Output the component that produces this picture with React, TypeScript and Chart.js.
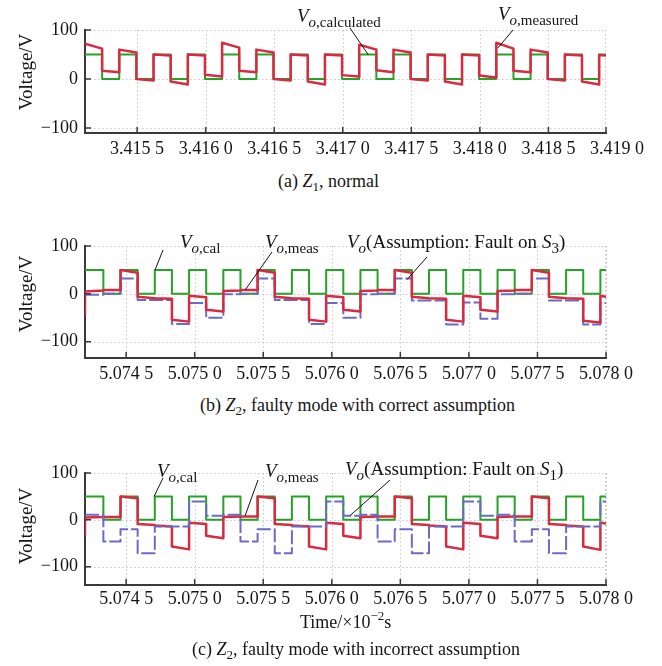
import React, { useEffect, useRef } from "react";
import { Chart, registerables } from "chart.js";

Chart.register(...registerables);

const SERIF = '"Liberation Serif", "Times New Roman", Times, serif';
const AXIS = "#3a3a3a";
const TEXT = "#151515";
const RED = "#d82a40";
const GREEN = "#26a326";
const BLUE = "#6b6bc6";

// ---------- shared ----------
const yTicks = [-100, 0, 100];

// ---------- panel (a): Z1, normal ----------
const timesA = [
  3.41512, 3.415245, 3.41537, 3.415495, 3.41562, 3.415745, 3.41587, 3.415995,
  3.41612, 3.416245, 3.41637, 3.416495, 3.41662, 3.416745, 3.41687, 3.416995,
  3.41712, 3.417245, 3.41737, 3.417495, 3.41762, 3.417745, 3.41787, 3.417995,
  3.41812, 3.418245, 3.41837, 3.418495, 3.41862, 3.418745, 3.41887, 3.41892,
];
const xTicksA = [3.4155, 3.416, 3.4165, 3.417, 3.4175, 3.418, 3.4185, 3.419];
const greenA = [
  50, 0, 50, 0, 50, 0, 50, 0, 50, 0, 50, 0, 50, 0, 50, 0,
  50, 0, 50, 0, 50, 0, 50, 0, 50, 0, 50, 0, 50, 0, 50,
];
const redAStart = [
  72, 17, 60, 0, 50, -5, 50, 9, 74, 17, 60, 0, 50, -5, 50, 8,
  70, 18, 60, 0, 50, -5, 50, 7, 74, 17, 60, 0, 50, -5, 49,
];
const redAEnd = [
  62, 14, 54, -3, 48, -11, 48, 5, 64, 14, 54, -3, 48, -11, 48, 5,
  60, 14, 54, -3, 48, -11, 48, 3, 62, 14, 54, -3, 48, -11, 48,
];

// ---------- panels (b) and (c): Z2, faulty mode ----------
const timesBC = [
  5.0742, 5.074334, 5.074459, 5.074584, 5.074709, 5.074834, 5.074959, 5.075084,
  5.075209, 5.075334, 5.075459, 5.075584, 5.075709, 5.075834, 5.075959, 5.076084,
  5.076209, 5.076334, 5.076459, 5.076584, 5.076709, 5.076834, 5.076959, 5.077084,
  5.077209, 5.077334, 5.077459, 5.077584, 5.077709, 5.077834, 5.077959, 5.078,
];
const xTicksBC = [5.0745, 5.075, 5.0755, 5.076, 5.0765, 5.077, 5.0775, 5.078];

const greenB = [
  50, 0, 50, 0, 50, 0, 50, 0, 50, 0, 50, 0, 50, 0, 50, 0,
  50, 0, 50, 0, 50, 0, 50, 0, 50, 0, 50, 0, 50, 0, 50,
];
const redBLead = -45;
const redBStart = [
  5, 8, 50, -6, -9, -54, -4, -33, 6, 8, 50, -6, -9, -54, -4, -33,
  6, 8, 50, -6, -9, -54, -4, -33, 6, 8, 50, -6, -9, -56, -4,
];
const redBEnd = [
  7, 8, 44, -9, -10, -58, -7, -37, 7, 8, 44, -9, -10, -58, -7, -37,
  7, 8, 44, -9, -10, -58, -7, -37, 7, 8, 44, -9, -10, -60, -6,
];
const blueB = [
  -2, 0, 32, -13, -13, -63, -19, -50, -1, 0, 32, -13, -13, -63, -19, -50,
  -1, 0, 32, -14, -14, -64, -18, -52, -1, 0, 32, -14, -14, -64, -19,
];

const greenC = [
  50, 0, 50, 0, 50, 0, 50, 0, 50, 0, 50, 0, 50, 0, 50, 0,
  50, 0, 50, 0, 50, 0, 50, 0, 50, 0, 50, 0, 50, 0, 50,
];
const redCLead = -35;
const redCStart = [
  5, 6, 50, -9, -12, -57, -6, -34, 6, 7, 50, -9, -12, -57, -6, -34,
  6, 7, 50, -9, -12, -57, -6, -34, 6, 7, 50, -9, -12, -57, -6,
];
const redCEnd = [
  6, 6, 46, -11, -14, -63, -9, -39, 7, 7, 46, -11, -14, -63, -9, -39,
  7, 7, 46, -11, -14, -63, -9, -39, 7, 7, 46, -11, -14, -64, -8,
];
const blueC = [
  11, -46, -20, -71, -14, -14, 39, 9, 11, -46, -20, -71, -14, -14, 39, 9,
  11, -46, -20, -71, -14, -14, 39, 9, 11, -46, -20, -71, -14, -14, 39,
];

// ---------- helpers ----------
function trace(times: number[], starts: number[], ends: number[], lead?: number) {
  const pts: { x: number; y: number }[] = [];
  if (lead !== undefined) pts.push({ x: times[0], y: lead });
  for (let k = 0; k < starts.length; k++) {
    pts.push({ x: times[k], y: starts[k] });
    pts.push({ x: times[k + 1], y: ends[k] });
  }
  return pts;
}

function fmtX(v: number) {
  const s = Number(v).toFixed(4);
  return s.slice(0, -1) + " " + s.slice(-1);
}
function fmtY(v: number) {
  const n = Number(v);
  return n < 0 ? "\u2212" + Math.abs(n) : String(n);
}

type Leader = { fx: number; fy: number; tx: number; ty: number };
type Panel = {
  top: number;
  height: number;
  bottomRel: number;
  yMin: number;
  xMin: number;
  xMax: number;
  xTicks: number[];
  xPad: number;
  datasets: any[];
  leaders: Leader[];
};

function line(data: any[], color: string, width: number, dash?: number[]) {
  return {
    data,
    borderColor: color,
    borderWidth: width,
    borderDash: dash || [],
    pointRadius: 0,
    fill: false,
    tension: 0,
    borderJoinStyle: "round",
  };
}

function decor(p: Panel) {
  return {
    id: "decor",
    beforeDatasetsDraw(chart: any) {
      const { ctx, chartArea: a, scales } = chart;
      const x = scales.x;
      const y = scales.y;
      ctx.save();
      ctx.strokeStyle = "#c6c6c6";
      ctx.lineWidth = 1;
      ctx.setLineDash([1.5, 2.5]);
      ctx.beginPath();
      for (const t of x.ticks) {
        const px = Math.round(x.getPixelForValue(t.value)) + 0.5;
        if (px > a.left + 2 && px <= a.right + 1) {
          ctx.moveTo(px, a.top);
          ctx.lineTo(px, a.bottom);
        }
      }
      const rx = Math.round(a.right) - 0.5;
      ctx.moveTo(rx, a.top);
      ctx.lineTo(rx, a.bottom);
      for (const t of y.ticks) {
        const py = Math.round(y.getPixelForValue(t.value)) + 0.5;
        ctx.moveTo(a.left + 1, py);
        ctx.lineTo(a.right, py);
      }
      ctx.stroke();
      ctx.restore();
    },
    afterDatasetsDraw(chart: any) {
      const { ctx, chartArea: a, scales } = chart;
      const x = scales.x;
      const y = scales.y;
      ctx.save();
      ctx.strokeStyle = AXIS;
      ctx.lineWidth = 1.5;
      ctx.beginPath();
      for (const t of x.ticks) {
        const px = x.getPixelForValue(t.value);
        if (px > a.left + 2 && px <= a.right + 1) {
          ctx.moveTo(px, a.bottom);
          ctx.lineTo(px, a.bottom - 6);
        }
      }
      ctx.moveTo(a.right, a.bottom);
      ctx.lineTo(a.right, a.bottom - 6);
      for (const t of y.ticks) {
        const py = y.getPixelForValue(t.value);
        ctx.moveTo(a.left, py);
        ctx.lineTo(a.left + 6, py);
      }
      ctx.stroke();
      ctx.strokeStyle = "#111";
      ctx.lineWidth = 1;
      ctx.beginPath();
      for (const l of p.leaders) {
        ctx.moveTo(l.fx, l.fy - p.top);
        ctx.lineTo(x.getPixelForValue(l.tx), y.getPixelForValue(l.ty));
      }
      ctx.stroke();
      ctx.restore();
    },
  };
}

function PanelChart({ p }: { p: Panel }) {
  const ref = useRef<HTMLCanvasElement>(null);
  useEffect(() => {
    const chart = new Chart(ref.current as HTMLCanvasElement, {
      type: "line",
      data: { datasets: p.datasets },
      options: {
        responsive: false,
        animation: false,
        devicePixelRatio: 1,
        layout: { padding: { top: 30, right: 56, left: 0, bottom: 0 } },
        plugins: { legend: { display: false }, tooltip: { enabled: false } },
        scales: {
          x: {
            type: "linear",
            min: p.xMin,
            max: p.xMax,
            grid: { display: false, drawTicks: false },
            border: { display: true, color: AXIS, width: 2 },
            afterBuildTicks: (s: any) => {
              s.ticks = p.xTicks.map((v) => ({ value: v }));
            },
            afterFit: (s: any) => {
              s.height = p.height - p.bottomRel;
            },
            ticks: {
              autoSkip: false,
              maxRotation: 0,
              minRotation: 0,
              padding: p.xPad,
              color: TEXT,
              font: { family: SERIF, size: 18 },
              callback: (v: any) => fmtX(v),
            },
          },
          y: {
            type: "linear",
            min: p.yMin,
            max: 100,
            grid: { display: false, drawTicks: false },
            border: { display: true, color: AXIS, width: 2 },
            afterBuildTicks: (s: any) => {
              s.ticks = yTicks.map((v) => ({ value: v }));
            },
            afterFit: (s: any) => {
              s.width = 85;
            },
            ticks: {
              padding: 7,
              color: TEXT,
              font: { family: SERIF, size: 18 },
              callback: (v: any) => fmtY(v),
            },
          },
        },
      } as any,
      plugins: [decor(p) as any],
    });
    return () => chart.destroy();
  }, []);
  return (
    <canvas
      ref={ref}
      width={662}
      height={p.height}
      style={{ position: "absolute", left: 0, top: p.top, width: 662, height: p.height }}
    />
  );
}

const sub: React.CSSProperties = { fontSize: 15, position: "relative", top: 5, lineHeight: 0 };
const sub2: React.CSSProperties = { fontSize: 13, position: "relative", top: 4, lineHeight: 0 };

function Txt({ left, top, size = 19, children }: { left: number; top: number; size?: number; children: any }) {
  return (
    <div
      style={{
        position: "absolute",
        left,
        top,
        fontSize: size,
        lineHeight: 1,
        whiteSpace: "nowrap",
        fontFamily: SERIF,
        color: TEXT,
      }}
    >
      {children}
    </div>
  );
}

function YTitle({ cx, cy }: { cx: number; cy: number }) {
  return (
    <div
      style={{
        position: "absolute",
        left: cx,
        top: cy,
        transform: "translate(-50%, -50%) rotate(-90deg)",
        fontSize: 19,
        lineHeight: 1,
        whiteSpace: "nowrap",
        fontFamily: SERIF,
        color: TEXT,
      }}
    >
      Voltage/V
    </div>
  );
}

export default function App() {
  const panelA: Panel = {
    top: 0,
    height: 165,
    bottomRel: 133,
    yMin: -110,
    xMin: 3.41512,
    xMax: 3.41892,
    xTicks: xTicksA,
    xPad: 5,
    datasets: [
      line(trace(timesA, redAStart, redAEnd), RED, 2.5),
      line(trace(timesA, greenA, greenA), GREEN, 2),
    ],
    leaders: [
      { fx: 350, fy: 28, tx: 3.417185, ty: 50 },
      { fx: 513, fy: 30, tx: 3.41813, ty: 63 },
    ],
  };
  const panelB: Panel = {
    top: 216,
    height: 165,
    bottomRel: 142,
    yMin: -134,
    xMin: 5.0742,
    xMax: 5.078,
    xTicks: xTicksBC,
    xPad: 5,
    datasets: [
      line(trace(timesBC, redBStart, redBEnd, redBLead), RED, 2.5),
      line(trace(timesBC, blueB, blueB), BLUE, 2, [14, 3]),
      line(trace(timesBC, greenB, greenB), GREEN, 2),
    ],
    leaders: [
      { fx: 163, fy: 250, tx: 5.074711, ty: 50 },
      { fx: 272, fy: 252, tx: 5.075368, ty: 8 },
      { fx: 427, fy: 257, tx: 5.076549, ty: 30 },
    ],
  };
  const panelC: Panel = {
    top: 443,
    height: 170,
    bottomRel: 142,
    yMin: -139,
    xMin: 5.0742,
    xMax: 5.078,
    xTicks: xTicksBC,
    xPad: 3,
    datasets: [
      line(trace(timesBC, blueC, blueC), BLUE, 2, [14, 3]),
      line(trace(timesBC, redCStart, redCEnd, redCLead), RED, 2.5),
      line(trace(timesBC, greenC, greenC), GREEN, 2),
    ],
    leaders: [
      { fx: 163, fy: 478, tx: 5.074704, ty: 50 },
      { fx: 258, fy: 480, tx: 5.075368, ty: 9 },
      { fx: 390, fy: 480, tx: 5.076133, ty: 9 },
    ],
  };

  return (
    <div
      style={{
        position: "absolute",
        left: 0,
        top: 0,
        width: 662,
        height: 666,
        background: "#fff",
        overflow: "hidden",
        fontFamily: SERIF,
      }}
    >
      <PanelChart p={panelA} />
      <PanelChart p={panelB} />
      <PanelChart p={panelC} />

      <YTitle cx={25} cy={72} />
      <YTitle cx={25} cy={294} />
      <YTitle cx={25} cy={526} />

      {/* panel (a) annotations */}
      <Txt left={297} top={6}>
        <i>V</i>
        <span style={sub}>
          <i>o</i>,calculated
        </span>
      </Txt>
      <Txt left={498} top={4}>
        <i>V</i>
        <span style={sub}>
          <i>o</i>,measured
        </span>
      </Txt>

      {/* panel (b) annotations */}
      <Txt left={180} top={232}>
        <i>V</i>
        <span style={sub}>
          <i>o</i>,cal
        </span>
      </Txt>
      <Txt left={265} top={232}>
        <i>V</i>
        <span style={sub}>
          <i>o</i>,meas
        </span>
      </Txt>
      <Txt left={347} top={232}>
        <i>V</i>
        <span style={sub}>
          <i>o</i>
        </span>
        (Assumption: Fault on <i>S</i>
        <span style={sub}>3</span>)
      </Txt>

      {/* panel (c) annotations */}
      <Txt left={157} top={461}>
        <i>V</i>
        <span style={sub}>
          <i>o</i>,cal
        </span>
      </Txt>
      <Txt left={265} top={461}>
        <i>V</i>
        <span style={sub}>
          <i>o</i>,meas
        </span>
      </Txt>
      <Txt left={345} top={459}>
        <i>V</i>
        <span style={sub}>
          <i>o</i>
        </span>
        (Assumption: Fault on <i>S</i>
        <span style={sub}>1</span>)
      </Txt>

      {/* captions */}
      <Txt left={278} top={172} size={18}>
        (a) <i>Z</i>
        <span style={sub2}>1</span>, normal
      </Txt>
      <Txt left={200} top={396} size={18}>
        (b) <i>Z</i>
        <span style={sub2}>2</span>, faulty mode with correct assumption
      </Txt>
      <Txt left={300} top={613} size={18}>
        Time/×10
        <sup style={{ fontSize: 13, position: "relative", top: -1, lineHeight: 0, verticalAlign: "super" }}>
          −2
        </sup>
        s
      </Txt>
      <Txt left={192} top={640} size={18}>
        (c) <i>Z</i>
        <span style={sub2}>2</span>, faulty mode with incorrect assumption
      </Txt>
    </div>
  );
}
